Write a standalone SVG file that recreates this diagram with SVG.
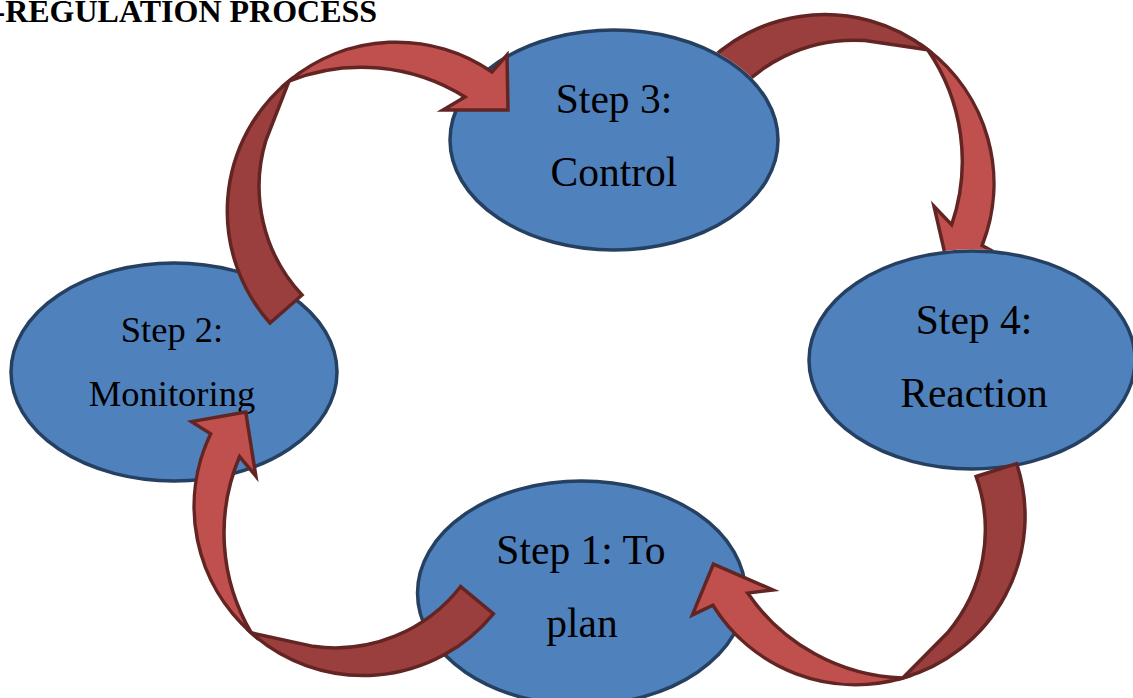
<svg xmlns="http://www.w3.org/2000/svg" width="1133" height="698" viewBox="0 0 1133 698">
  <style>
    .bg { fill: #ffffff; }
    .title { font-family: "Liberation Serif", "Times New Roman", serif; font-weight: bold; font-size: 32px; fill: #000000; }
    .step { fill: #4F81BD; stroke: #254061; stroke-width: 3.5; }
    .label { font-family: "Liberation Serif", "Times New Roman", serif; font-size: 41.5px; fill: #000000; text-anchor: middle; }
    .label-small { font-size: 36.5px; }
    .arrow-back { fill: #9A3F3D; stroke: #632523; stroke-width: 3.5; stroke-linejoin: miter; stroke-miterlimit: 10; }
    .arrow-front { fill: #C0504D; stroke: #632523; stroke-width: 3.5; stroke-linejoin: miter; stroke-miterlimit: 10; }
  </style>
  <defs>
    <!-- One curved block arrow, drawn around its own arc centre; the darker part is the twisted back face -->
    <g id="curved-arrow">
      <path class="arrow-back" d="M -94,85 L -126,113 A 168 168 0 0 1 -107,-129 L -130,-70 A 159 159 0 0 0 -94,85 Z"/>
      <path class="arrow-front" d="M -107,-129 A 168 168 0 0 1 96,-138 L 111,-155 L 112,-100 L 47,-100 L 69,-113 A 196 196 0 0 0 -107,-129 Z"/>
    </g>
    <!-- Hides the parts of the Control-to-Reaction arrow that pass behind those two steps -->
    <mask id="behind-steps" maskUnits="userSpaceOnUse" x="0" y="0" width="1133" height="698">
      <rect x="0" y="0" width="1133" height="698" fill="#ffffff"/>
      <ellipse cx="614" cy="140" rx="164" ry="110" fill="#000000" stroke="#000000" stroke-width="3.5"/>
      <ellipse cx="972" cy="360" rx="163" ry="109" fill="#000000" stroke="#000000" stroke-width="3.5"/>
    </mask>
  </defs>

  <rect class="bg" x="0" y="0" width="1133" height="698"/>

  <text class="title" x="-5.5" y="21.5">-REGULATION PROCESS</text>

  <g id="step-3">
    <ellipse class="step" cx="614" cy="140" rx="164" ry="110"/>
    <text class="label" x="614" y="113">Step 3:</text>
    <text class="label" x="614" y="186">Control</text>
  </g>

  <g id="step-2">
    <ellipse class="step" cx="174" cy="372" rx="163" ry="109"/>
    <text class="label label-small" x="172" y="342">Step 2:</text>
    <text class="label label-small" x="172" y="406">Monitoring</text>
  </g>

  <g id="step-4">
    <ellipse class="step" cx="972" cy="360" rx="163" ry="109"/>
    <text class="label" x="974" y="334">Step 4:</text>
    <text class="label" x="974" y="407">Reaction</text>
  </g>

  <g id="step-1">
    <ellipse class="step" cx="581.5" cy="593" rx="164" ry="112"/>
    <text class="label" x="581" y="564">Step 1: To</text>
    <text class="label" x="582" y="637">plan</text>
  </g>

  <g id="connectors">
    <!-- Step 3 to Step 4: runs behind both ellipses -->
    <g id="arrow-3-4" mask="url(#behind-steps)">
      <use href="#curved-arrow" transform="translate(826,183) rotate(77)"/>
    </g>
    <!-- Step 2 to Step 3 -->
    <use id="arrow-2-3" href="#curved-arrow" transform="translate(396,210)"/>
    <!-- Step 1 to Step 2 -->
    <use id="arrow-1-2" href="#curved-arrow" transform="translate(362,507) rotate(-99)"/>
    <!-- Step 4 to Step 1 -->
    <use id="arrow-4-1" href="#curved-arrow" transform="translate(856,517) rotate(-156.5)"/>
  </g>
</svg>
